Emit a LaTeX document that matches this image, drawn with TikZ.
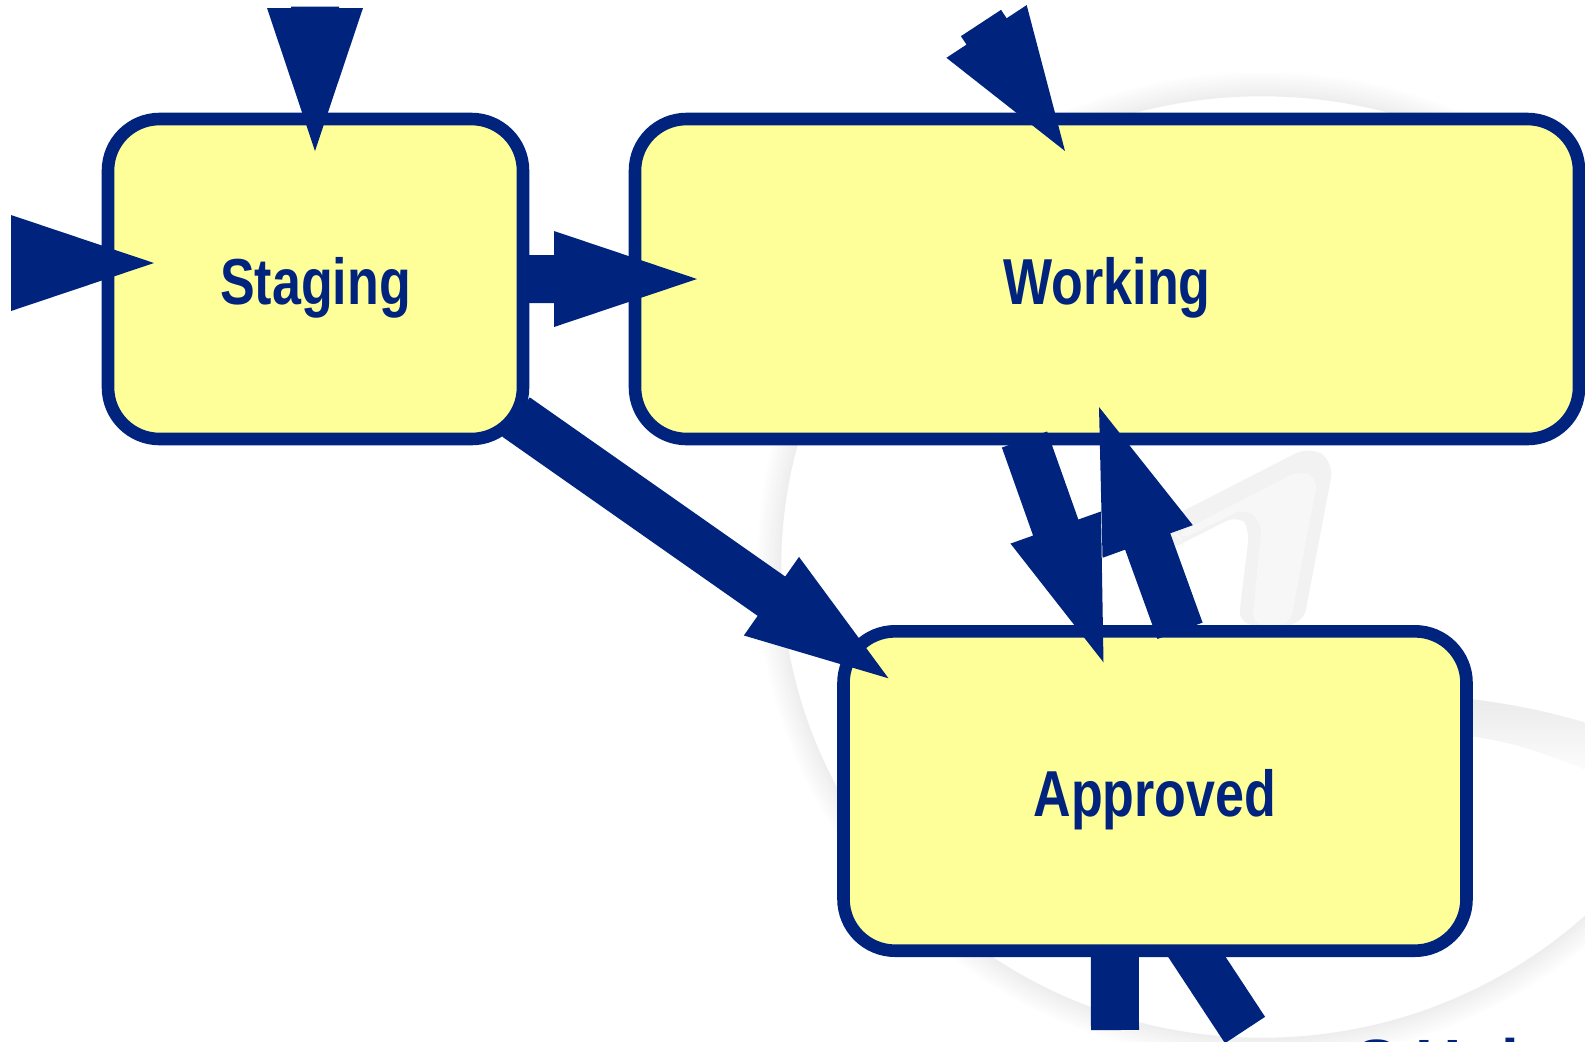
\documentclass[tikz,border=0pt]{standalone}
\usepackage{fontspec}
\setmainfont{Liberation Sans}
\newfontfamily\lblfont[FakeStretch=0.8]{Liberation Sans}
\usetikzlibrary{calc}
\definecolor{navy}{RGB}{0,36,125}
\definecolor{paleyellow}{RGB}{255,255,153}
\pgfdeclarelayer{logo}
\pgfdeclarelayer{tails}
\pgfsetlayers{logo,tails,main}
% fat arrow: #1 id, #2 start, #3 tip
\newcommand\fatarrow[3]{%
  \coordinate (#1-s) at (#2);
  \coordinate (#1-t) at (#3);
  \coordinate (#1-b) at ($(#1-t)!71.5pt!(#1-s)$);
  \fill[arrowfill] ($(#1-s)!12pt!90:(#1-t)$) -- ($(#1-b)!12pt!90:(#1-t)$)
     -- ($(#1-b)!24pt!90:(#1-t)$) -- (#1-t) -- ($(#1-b)!24pt!-90:(#1-t)$)
     -- ($(#1-b)!12pt!-90:(#1-t)$) -- ($(#1-s)!12pt!-90:(#1-t)$) -- cycle;
}
\begin{document}
\begin{tikzpicture}[x=0.5pt,y=-0.5pt,
  statebox/.style={draw=navy, fill=paleyellow, line width=6.3pt,
    rounded corners=25.8pt, inner sep=0pt, outer sep=0pt, text=navy,
    font=\lblfont\bfseries\fontsize{32.5}{36}\selectfont,
    text height=25pt, text depth=0pt},
  arrowfill/.style={fill=navy},
  tailline/.style={draw=navy, line width=24pt, line cap=butt}]
\useasboundingbox (0,0) rectangle (1585,1041);

% states
\node[statebox, minimum width=207.5pt, minimum height=160pt] (Staging) at (315.5,279) {Staging};
\node[statebox, minimum width=472pt, minimum height=160pt] (Working) at (1107,279) {Working};
\node[statebox, minimum width=311.5pt, minimum height=159.7pt] (Approved) at (1155,791) {Approved};

% free ends
\coordinate (srcA) at (315,6.5);
\coordinate (srcB) at (981,23);
\coordinate (srcC) at (11,263);
\coordinate (endH) at (1115,1030);
\coordinate (endI) at (1245,1030);

% connectors
\fatarrow{a}{srcA}{$(Staging.north)+(-0.5,32)$}
\fatarrow{b}{srcB}{$(Working.north west)+(430,32)$}
\fatarrow{c}{srcC}{$(Staging.west)+(46,-16)$}
\fatarrow{d}{$(Staging.east)+(6,0)$}{$(Working.west)+(62,0)$}
\fatarrow{e}{$(Staging.south east)+(-7,-22)$}{$(Approved.north west)+(45,47)$}
\fatarrow{f}{$(Working.south west)+(389.5,0.5)$}{$(Approved.north west)+(260,31)$}
\fatarrow{g}{$(Approved.north west)+(336.5,-0.5)$}{$(Working.south west)+(464,-32)$}

\begin{pgfonlayer}{tails}
  \draw[tailline] ($(Approved.south west)+(271,-60)$) -- (endH);
  \draw[tailline] ($(Approved.south west)+(319,-46)$) -- (endI);
\end{pgfonlayer}

% faint background logo
\begin{pgfonlayer}{logo}
  \fill[white] (0,0) rectangle (1585,1041);
  \foreach \i in {0,...,12} {
    \pgfmathsetmacro\rx{240+13-\i}
    \pgfmathsetmacro\ry{235+13-\i}
    \pgfmathsetmacro\p{0.55*\i}
    \draw[black!\p, line width=1.3pt] (1262,567) ellipse [x radius=\rx pt, y radius=\ry pt];
  }
  \fill[white] (1262,567) ellipse [x radius=240pt, y radius=235pt];
  \fill[black!5, rounded corners=8pt] (1150,528) -- (1310,446) -- (1334,462)
     -- (1303,625) -- (1238,625) -- (1250,526) -- (1240,514) -- (1165,552) -- cycle;
  \fill[black!3, rounded corners=6pt] (1175,535) -- (1300,470) -- (1318,478)
     -- (1290,625) -- (1252,625) -- (1262,522) -- (1245,508) -- (1180,540) -- cycle;
  \shade[top color=black!8, bottom color=black!1] (1460,698)
     .. controls (1510,703) and (1550,712) .. (1590,724) -- (1590,772)
     .. controls (1550,755) and (1510,740) .. (1460,735) -- cycle;
\end{pgfonlayer}

\begin{scope}
  \clip (0,0) rectangle (1585,1041);
  \node[anchor=base west, inner sep=0pt, text=navy,
    font=\bfseries\fontsize{32}{36}\selectfont] (logotext) at (1355,1084) {S Hub};
\end{scope}
\end{tikzpicture}
\end{document}
